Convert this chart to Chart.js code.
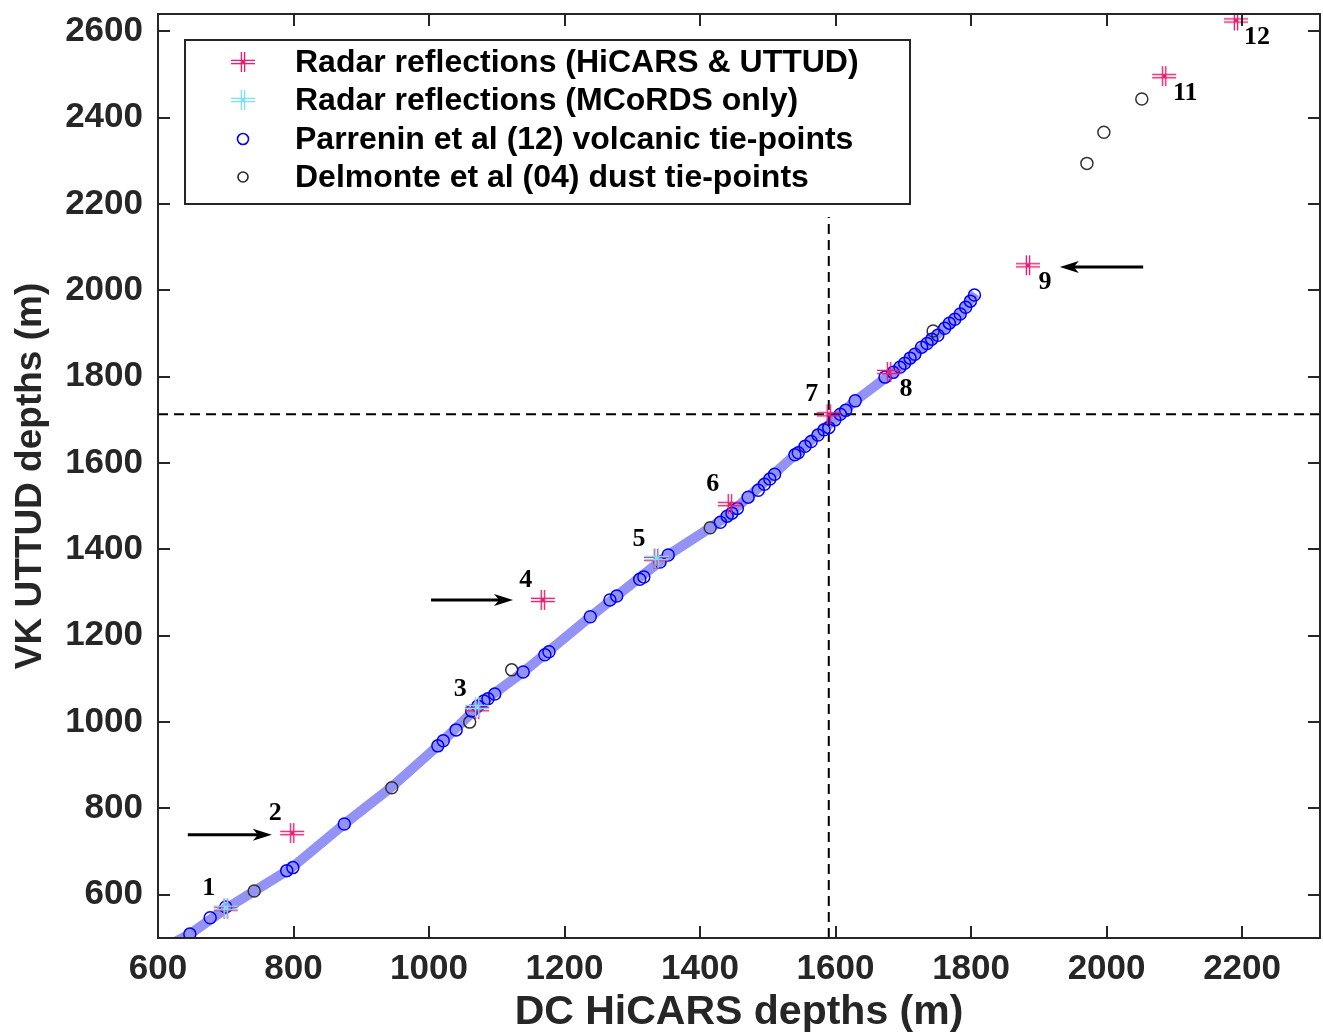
<!DOCTYPE html>
<html><head><meta charset="utf-8">
<script src="https://cdn.jsdelivr.net/npm/chart.js@4/dist/chart.umd.min.js"></script>
<style>html,body{margin:0;padding:0;background:#fff;overflow:hidden}#wrap{width:1323px;height:1034px}canvas{display:block}</style>
</head><body><div id="wrap"><canvas id="c" width="1323" height="1034"></canvas></div>
<script>
// ---------- data ----------
const xTicks = [600, 800, 1000, 1200, 1400, 1600, 1800, 2000, 2200];
const yTicks = [600, 800, 1000, 1200, 1400, 1600, 1800, 2000, 2200, 2400, 2600];

const reflectionLabels = ['1', '2', '3', '4', '5', '6', '7', '8', '9', '11', '12'];
const reflectionX = [700, 798, 1071, 1168, 1335, 1444, 1590, 1679, 1884, 2085, 2191];
const reflectionY = [568, 743, 1030, 1283, 1378, 1505, 1713, 1811, 2058, 2496, 2625];
const labelSide = ['ul', 'ul', 'ul', 'ul', 'ul', 'ul', 'ul', 'lr', 'lr', 'lr', 'lr'];

const mcordsX = [700, 1071, 1336];
const mcordsY = [570, 1035, 1380];

const volcanicX = [647, 677, 700, 790, 799, 875, 1013, 1021, 1040, 1063, 1072, 1081, 1087, 1097, 1139, 1171, 1177, 1238, 1267, 1277, 1311, 1317, 1341, 1353, 1430, 1440, 1447, 1455, 1471, 1486, 1495, 1503, 1510, 1540, 1545, 1555, 1564, 1574, 1583, 1590, 1599, 1607, 1615, 1629, 1673, 1685, 1695, 1702, 1710, 1717, 1727, 1735, 1742, 1751, 1761, 1768, 1776, 1784, 1792, 1799, 1805];
const volcanicY = [509, 547, 572, 656, 663, 764, 945, 957, 982, 1026, 1037, 1049, 1054, 1065, 1116, 1156, 1163, 1244, 1283, 1292, 1331, 1336, 1371, 1387, 1463, 1477, 1484, 1495, 1521, 1537, 1551, 1563, 1574, 1619, 1624, 1639, 1650, 1665, 1677, 1682, 1700, 1713, 1722, 1744, 1799, 1810, 1822, 1831, 1843, 1852, 1868, 1877, 1887, 1896, 1912, 1924, 1933, 1945, 1961, 1975, 1989];

const dustX = [742, 945, 1060, 1122, 1415, 1744, 1971, 1996, 2052];
const dustY = [609, 848, 1000, 1121, 1450, 1906, 2294, 2366, 2443];

const fitX = [612, 647, 700, 790, 799, 875, 945, 1013, 1081, 1139, 1238, 1353, 1415, 1440, 1540, 1607, 1629, 1695, 1784, 1806];
const fitY = [480, 509, 568, 655, 665, 764, 850, 945, 1049, 1116, 1244, 1387, 1450, 1477, 1619, 1713, 1744, 1822, 1945, 1993];

const crossX = 1590, crossY = 1713, crossTopY = 2170;
const xMin = 600, xMax = 2315, yMin = 500, yMax = 2640;

const arrowFromX = [644, 1003, 2054];
const arrowToX = [768, 1124, 1931];
const arrowY = [739, 1283, 2054];

const legendLabels = ['Radar reflections (HiCARS & UTTUD)', 'Radar reflections (MCoRDS only)',
  'Parrenin et al (12) volcanic tie-points', 'Delmonte et al (04) dust tie-points'];

// ---------- styling ----------
const PINK = '#e8206f', CYAN = '#7ee0f5', BLUE = '#0000ff', DARK = '#262626';
const SANS = "'Liberation Sans', Arial, Helvetica, sans-serif";
const SERIF = "'Liberation Serif', 'Times New Roman', serif";
const RIGHT_GAP = 3;

function plusMarker(color) {
  const c = document.createElement('canvas'); c.width = 26; c.height = 24;
  const g = c.getContext('2d'); g.strokeStyle = color; g.lineWidth = 1.4;
  for (const o of [-1.6, 1.6]) {
    g.beginPath(); g.moveTo(13 + o, 2); g.lineTo(13 + o, 22); g.stroke();
    g.beginPath(); g.moveTo(1, 12 + o); g.lineTo(25, 12 + o); g.stroke();
  }
  g.fillStyle = color; g.fillRect(11.5, 10.5, 3, 3);
  return c;
}
const pinkMarker = plusMarker(PINK), cyanMarker = plusMarker(CYAN);

const zip = (xs, ys) => xs.map((v, i) => ({x: v, y: ys[i]}));

const decorPlugin = {
  id: 'decor',
  afterLayout(chart) {
    const a = chart.chartArea, x = chart.scales.x;
    const target = chart.width - RIGHT_GAP;
    if (Math.abs(a.right - target) > 0.5) {
      a.right = target; a.width = a.right - a.left;
      x.right = target; x.width = x.right - x.left;
      x.configure();
    }
  },
  afterDatasetsDraw(chart) {
    const {ctx, chartArea: a, scales: {x, y}} = chart;
    ctx.save();
    // arrows
    ctx.strokeStyle = '#000'; ctx.fillStyle = '#000'; ctx.lineWidth = 3;
    arrowFromX.forEach((fx, i) => {
      const x0 = x.getPixelForValue(fx), x1 = x.getPixelForValue(arrowToX[i]);
      const py = y.getPixelForValue(arrowY[i]);
      const dir = Math.sign(x1 - x0);
      ctx.beginPath(); ctx.moveTo(x0, py); ctx.lineTo(x1 - dir * 10, py); ctx.stroke();
      ctx.beginPath();
      ctx.moveTo(x1, py);
      ctx.lineTo(x1 - dir * 19, py - 6);
      ctx.lineTo(x1 - dir * 14, py);
      ctx.lineTo(x1 - dir * 19, py + 6);
      ctx.closePath(); ctx.fill();
    });
    // reflection number labels
    ctx.font = 'bold 26px ' + SERIF; ctx.textAlign = 'center'; ctx.textBaseline = 'middle';
    ctx.fillStyle = '#000';
    reflectionLabels.forEach((t, i) => {
      const px = x.getPixelForValue(reflectionX[i]), py = y.getPixelForValue(reflectionY[i]);
      const dx = labelSide[i] === 'ul' ? -17 : 17, dy = labelSide[i] === 'ul' ? -20 : 17;
      ctx.fillText(t, px + dx + (t.length > 1 ? 4 : 0), py + dy);
    });
    // frame + inward ticks
    ctx.strokeStyle = DARK; ctx.lineWidth = 2;
    ctx.strokeRect(a.left, a.top, a.right - a.left, a.bottom - a.top);
    const tl = 12;
    ctx.beginPath();
    xTicks.forEach(v => {
      const px = Math.round(x.getPixelForValue(v));
      ctx.moveTo(px, a.bottom); ctx.lineTo(px, a.bottom - tl);
      ctx.moveTo(px, a.top); ctx.lineTo(px, a.top + tl);
    });
    yTicks.forEach(v => {
      const py = Math.round(y.getPixelForValue(v));
      ctx.moveTo(a.left, py); ctx.lineTo(a.left + tl, py);
      ctx.moveTo(a.right, py); ctx.lineTo(a.right - tl, py);
    });
    ctx.stroke();
    // legend
    const lx = 185, ly = 40, lw = 725, lh = 164;
    ctx.fillStyle = '#fff'; ctx.fillRect(lx, ly, lw, lh);
    ctx.strokeStyle = DARK; ctx.lineWidth = 2; ctx.strokeRect(lx, ly, lw, lh);
    const rows = [62, 100, 139, 177], mx = 243;
    ctx.drawImage(pinkMarker, mx - 13, rows[0] - 12);
    ctx.drawImage(cyanMarker, mx - 13, rows[1] - 12);
    ctx.lineWidth = 1.6;
    ctx.strokeStyle = BLUE; ctx.beginPath(); ctx.arc(mx, rows[2], 5.5, 0, Math.PI * 2); ctx.stroke();
    ctx.strokeStyle = DARK; ctx.beginPath(); ctx.arc(mx, rows[3], 5, 0, Math.PI * 2); ctx.stroke();
    ctx.fillStyle = '#000'; ctx.font = 'bold 32px ' + SANS; ctx.textAlign = 'left'; ctx.textBaseline = 'middle';
    legendLabels.forEach((t, i) => ctx.fillText(t, 295, rows[i] + 1));
    ctx.restore();
  }
};

const tickFont = {family: SANS, size: 35, weight: 'bold', lineHeight: 1};

new Chart(document.getElementById('c'), {
  type: 'scatter',
  data: {
    datasets: [
      {label: legendLabels[1], data: zip(mcordsX, mcordsY), pointStyle: cyanMarker, pointRadius: 10},
      {label: legendLabels[0], data: zip(reflectionX, reflectionY), pointStyle: pinkMarker, pointRadius: 10},
      {label: legendLabels[2], data: zip(volcanicX, volcanicY), pointStyle: 'circle', pointRadius: 6,
        borderWidth: 1.5, borderColor: BLUE, backgroundColor: 'rgba(0,0,0,0)'},
      {label: legendLabels[3], data: zip(dustX, dustY), pointStyle: 'circle', pointRadius: 6,
        borderWidth: 1.5, borderColor: '#333', backgroundColor: 'rgba(0,0,0,0)'},
      {label: 'v', data: [{x: crossX, y: yMin}, {x: crossX, y: crossTopY}], showLine: true, pointRadius: 0,
        borderColor: '#000', borderWidth: 2, borderDash: [10, 6]},
      {label: 'h', data: [{x: xMin, y: crossY}, {x: xMax, y: crossY}], showLine: true, pointRadius: 0,
        borderColor: '#000', borderWidth: 2, borderDash: [10, 6]},
      {label: 'fit', data: zip(fitX, fitY), showLine: true, pointRadius: 0, clip: 0,
        borderColor: 'rgba(30,30,235,0.48)', borderWidth: 10, borderJoinStyle: 'round'}
    ]
  },
  options: {
    responsive: false, animation: false, events: [],
    layout: {padding: {top: 14, right: RIGHT_GAP, left: 0, bottom: 0}},
    plugins: {legend: {display: false}, tooltip: {enabled: false}},
    scales: {
      x: {
        type: 'linear', min: xMin, max: xMax,
        afterBuildTicks: s => { s.ticks = xTicks.map(v => ({value: v})); },
        afterFit: s => { s.height = 96; s.paddingLeft = 0; s.paddingRight = 0; },
        grid: {display: false, drawTicks: false}, border: {display: false},
        ticks: {font: tickFont, color: DARK, padding: 14, maxRotation: 0, autoSkip: false, callback: v => String(v)},
        title: {display: true, text: 'DC HiCARS depths (m)', color: DARK,
          font: {family: SANS, size: 41, weight: 'bold', lineHeight: 1}, padding: {top: 0, bottom: 1}}
      },
      y: {
        type: 'linear', min: yMin, max: yMax,
        afterBuildTicks: s => { s.ticks = yTicks.map(v => ({value: v})); },
        afterFit: s => { s.width = 158; s.paddingTop = 0; s.paddingBottom = 0; },
        grid: {display: false, drawTicks: false}, border: {display: false},
        ticks: {font: tickFont, color: DARK, padding: 15, autoSkip: false, callback: v => String(v)},
        title: {display: true, text: 'VK UTTUD depths (m)', color: DARK,
          font: {family: SANS, size: 37, weight: 'bold', lineHeight: 1}, padding: {top: 12, bottom: 0}}
      }
    }
  },
  plugins: [decorPlugin]
});
</script></body></html>
